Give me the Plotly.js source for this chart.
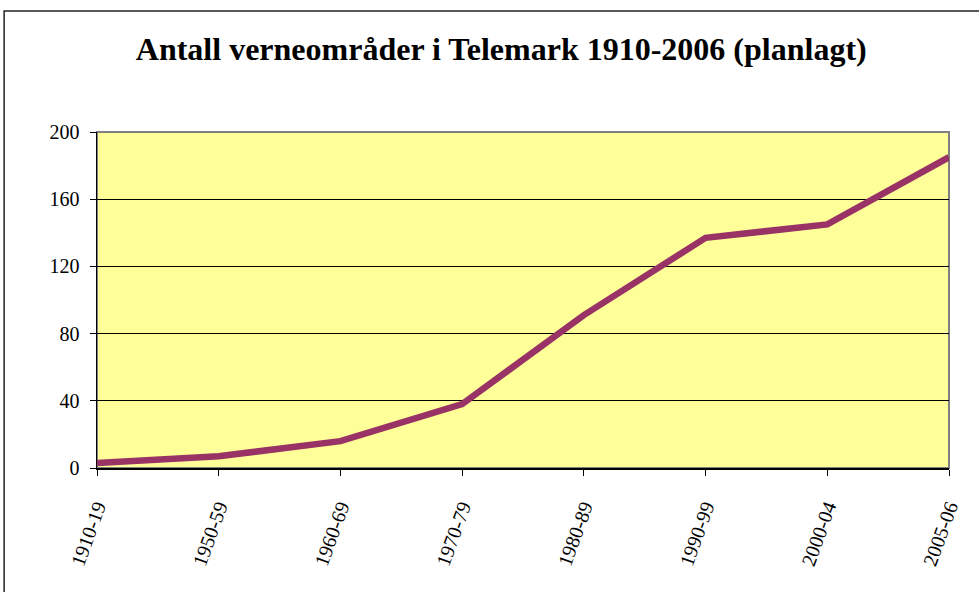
<!DOCTYPE html>
<html>
<head>
<meta charset="utf-8">
<script src="https://cdn.plot.ly/plotly-3.0.1.min.js"></script>
<style>
html,body{margin:0;padding:0;background:#fff;}
#chart{width:979px;height:592px;}
</style>
</head>
<body>
<div id="chart"></div>
<script>
const categories = ["1910-19","1950-59","1960-69","1970-79","1980-89","1990-99","2000-04","2005-06"];
const values = [3, 7, 16, 38, 91, 137, 145, 185];
const yTicks = [0, 40, 80, 120, 160, 200];

const serif = "'Liberation Serif', 'Times New Roman', serif";

const trace = {
  x: categories,
  y: values,
  type: "scatter",
  mode: "lines",
  line: {color: "#993366", width: 6.5},
  hoverinfo: "skip"
};

const layout = {
  width: 979,
  height: 592,
  margin: {l: 97, r: 30, t: 132, b: 124},
  paper_bgcolor: "#ffffff",
  plot_bgcolor: "#ffff99",
  showlegend: false,
  title: {
    text: "<b>Antall verneområder i Telemark 1910-2006 (planlagt)</b>",
    font: {family: serif, size: 32, color: "#000"},
    x: 0.512, xanchor: "center",
    y: 0.917, yanchor: "middle"
  },
  xaxis: {
    type: "category",
    range: [0, categories.length - 1],
    showgrid: false,
    zeroline: false,
    showline: true,
    linecolor: "#000",
    linewidth: 1.5,
    ticks: "outside",
    ticklen: 6,
    tickwidth: 1,
    tickcolor: "#000",
    tickangle: -70,
    ticklabelstandoff: 12,
    tickfont: {family: serif, size: 20, color: "#000"},
    fixedrange: true
  },
  yaxis: {
    range: [0, 200],
    tickvals: yTicks,
    ticktext: yTicks.map(String),
    showgrid: true,
    gridcolor: "#000",
    gridwidth: 1,
    zeroline: false,
    showline: true,
    linecolor: "#000",
    linewidth: 1.5,
    ticks: "outside",
    ticklen: 6,
    tickwidth: 1,
    tickcolor: "#000",
    ticklabelstandoff: 6,
    tickfont: {family: serif, size: 20, color: "#000"},
    fixedrange: true
  },
  shapes: [
    {type: "rect", xref: "paper", yref: "paper", x0: 0, x1: 1, y0: 0, y1: 1,
     line: {color: "#808080", width: 2}, fillcolor: "rgba(0,0,0,0)", layer: "below"},
    {type: "rect", xref: "paper", yref: "paper", x0: -0.109, x1: 1.2, y0: -0.6, y1: 1.36,
     line: {color: "#222", width: 1.5}, fillcolor: "rgba(0,0,0,0)", layer: "above"}
  ]
};

Plotly.newPlot("chart", [trace], layout, {displayModeBar: false, staticPlot: true});
</script>
</body>
</html>
